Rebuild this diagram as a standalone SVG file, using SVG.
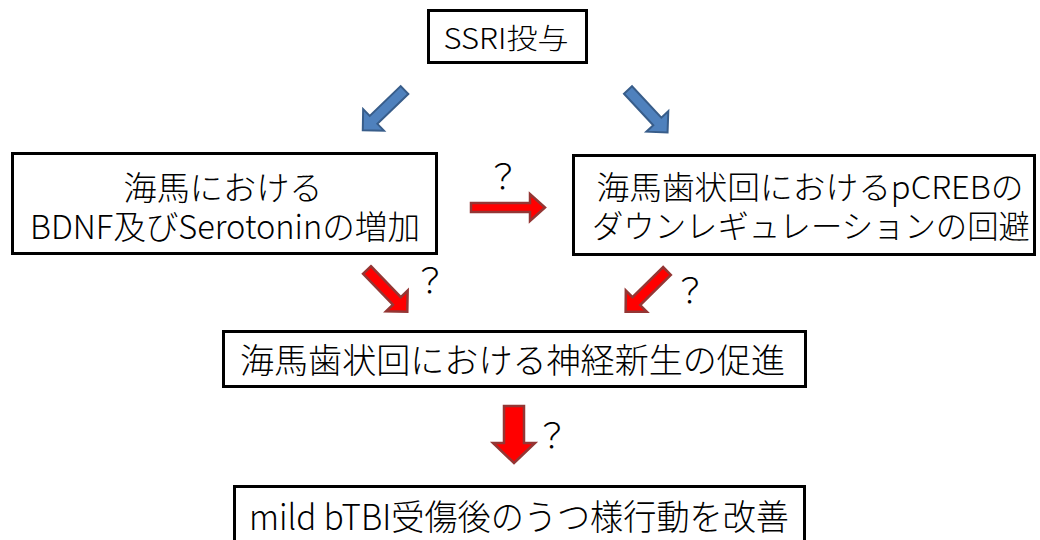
<svg xmlns="http://www.w3.org/2000/svg" width="1040" height="540" viewBox="0 0 1040 540">
<style>
  .box { fill: #ffffff; stroke: #000000; stroke-width: 3; }
  .t { font-family: "Noto Sans CJK JP", "Noto Sans", sans-serif; font-weight: 300; fill: #000000; text-anchor: middle; }
  .q { font-family: "Noto Sans CJK JP", "Noto Sans", sans-serif; font-weight: 300; fill: #000000; font-size: 34px; text-anchor: middle; }
  .blue { fill: #4F81BD; stroke: #385D8A; stroke-width: 2; stroke-linejoin: miter; }
  .red { fill: #FF0000; stroke: #943634; stroke-width: 2.5; stroke-linejoin: miter; }
</style>
<defs>
  <polygon id="diag" points="0,-5.5 43,-5.5 43,-15 58,0 43,15 43,5.5 0,5.5"/>
</defs>
<rect width="1040" height="540" fill="#ffffff"/>

<g id="node-ssri">
  <rect class="box" x="428.5" y="10.5" width="158" height="52"/>
  <text class="t" x="506" y="49" font-size="28" textLength="125" lengthAdjust="spacingAndGlyphs">SSRI投与</text>
</g>

<g id="node-bdnf">
  <rect class="box" x="12.5" y="153.5" width="424" height="100"/>
  <text class="t" x="223" y="200" font-size="33" textLength="199" lengthAdjust="spacingAndGlyphs">海馬における</text>
  <text class="t" x="225" y="239" font-size="33" textLength="390" lengthAdjust="spacingAndGlyphs">BDNF及びSerotoninの増加</text>
</g>

<g id="node-pcreb">
  <rect class="box" x="573.5" y="155.5" width="461" height="99"/>
  <text class="t" x="810" y="199" font-size="32" textLength="427" lengthAdjust="spacingAndGlyphs">海馬歯状回におけるpCREBの</text>
  <text class="t" x="811" y="238" font-size="32" textLength="438" lengthAdjust="spacingAndGlyphs">ダウンレギュレーションの回避</text>
</g>

<g id="node-neuro">
  <rect class="box" x="223.5" y="331.5" width="582" height="55"/>
  <text class="t" x="512.5" y="373" font-size="34" textLength="545" lengthAdjust="spacingAndGlyphs">海馬歯状回における神経新生の促進</text>
</g>

<g id="node-result">
  <rect class="box" x="234.5" y="486.5" width="570" height="60"/>
  <text class="t" x="519" y="530" font-size="35" textLength="540" lengthAdjust="spacingAndGlyphs">mild bTBI受傷後のうつ様行動を改善</text>
</g>

<g id="connectors">
  <use href="#diag" class="blue" transform="translate(404.5,90) rotate(136)"/>
  <use href="#diag" class="blue" transform="translate(628,90) rotate(47)"/>
  <polygon class="red" points="0,-4.5 59,-4.5 59,-13.5 74,0 59,13.5 59,4.5 0,4.5" transform="translate(471,207.5)"/>
  <use href="#diag" class="red" transform="translate(367,270) rotate(46)"/>
  <use href="#diag" class="red" transform="translate(667,271) rotate(135.5)"/>
  <polygon class="red" points="504,406 524,406 524,443 535,443 514,463 493,443 504,443"/>
  <text class="q" x="503" y="189">？</text>
  <text class="q" x="430" y="293">？</text>
  <text class="q" x="690" y="303">？</text>
  <text class="q" x="552" y="448">？</text>
</g>
</svg>
